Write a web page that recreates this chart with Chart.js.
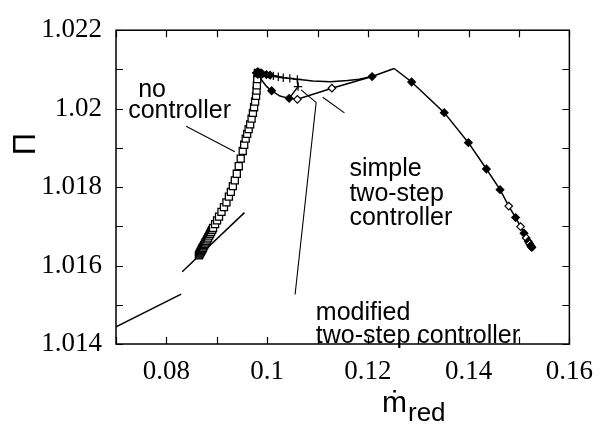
<!DOCTYPE html>
<html>
<head>
<meta charset="utf-8">
<script src="https://cdn.jsdelivr.net/npm/chart.js@4/dist/chart.umd.min.js"></script>
<style>
  html, body { margin: 0; padding: 0; background: #fff; }
  #wrap { width: 605px; height: 431px; }
</style>
</head>
<body>
<div id="wrap"><canvas id="c" width="605" height="431"></canvas></div>
<script>
// Axis tick labels
const xTickLabels = ['0.08', '0.1', '0.12', '0.14', '0.16'];
const yTickLabels = ['1.014', '1.016', '1.018', '1.02', '1.022'];

// Surge-line segments
const surgeAX = [0.07, 0.08294];
const surgeAY = [1.01444, 1.01527];
const surgeBX = [0.08314, 0.0955];
const surgeBY = [1.01584, 1.01735];

// No controller: speed line towards the surge point
const noCtrlX = [0.08645, 0.08655, 0.08665, 0.08675, 0.08685, 0.08695, 0.08705, 0.08715, 0.08725, 0.08737,
                 0.08751, 0.08765, 0.08780, 0.08795, 0.08810, 0.08829, 0.08849, 0.08868, 0.08888, 0.08908,
                 0.08927, 0.08967, 0.09006, 0.09045, 0.09094, 0.09143, 0.09192, 0.09241, 0.09280, 0.09320,
                 0.09359, 0.09398, 0.09437, 0.09476, 0.09516, 0.09545, 0.09575, 0.09604, 0.09633, 0.09663,
                 0.09692, 0.09718, 0.09741, 0.09761, 0.09780, 0.09790, 0.09796, 0.09804, 0.09816];
const noCtrlY = [1.016260, 1.016285, 1.016310, 1.016335, 1.016360, 1.016385, 1.016410, 1.016435, 1.016460, 1.016490,
                 1.016521, 1.016557, 1.016594, 1.016630, 1.016667, 1.016715, 1.016764, 1.016812, 1.016861, 1.016910,
                 1.016958, 1.017055, 1.017152, 1.017248, 1.017370, 1.017491, 1.017612, 1.017758, 1.017879, 1.018024,
                 1.018170, 1.018339, 1.018533, 1.018727, 1.018921, 1.019079, 1.019236, 1.019358, 1.019479, 1.019600,
                 1.019745, 1.019891, 1.020036, 1.020182, 1.020327, 1.020461, 1.020594, 1.020752, 1.020909];

// Upper trajectory from the left peak to the right peak
const upperX = [0.09816, 0.09908, 0.09986, 0.10059, 0.10124, 0.10222, 0.10320, 0.10451, 0.10600, 0.10908,
                0.11261, 0.11594, 0.11829, 0.12084, 0.12522];
const upperY = [1.020909, 1.020885, 1.020868, 1.020853, 1.020836, 1.020812, 1.020788, 1.020771, 1.020747, 1.020703,
                1.020686, 1.020715, 1.020752, 1.020819, 1.021023];
const upperMark = ['bigfill', 'fill', 'fill', 'fill', 'plus', 'plus', 'plus', 'plus', 'plus', 'none',
                   'none', 'none', 'none', 'fill', 'none'];

// Lower trajectory (dip after the left peak)
const lowerX = [0.09816, 0.09894, 0.09992, 0.10090, 0.10255, 0.10437, 0.10600, 0.11286, 0.12084];
const lowerY = [1.020909, 1.020722, 1.020562, 1.020456, 1.020320, 1.020262, 1.020238, 1.020521, 1.020819];
const lowerMark = ['bigfill', 'none', 'none', 'fill', 'none', 'fill', 'open', 'open', 'none'];

// Short branch back up to the upper trajectory
const linkX = [0.10437, 0.10614, 0.10600];
const linkY = [1.020262, 1.020562, 1.020747];
const linkMark = ['none', 'plus', 'none'];

// Characteristic right of the peak
const rightX = [0.12522, 0.12869, 0.13516, 0.13996, 0.14353, 0.14624, 0.14796, 0.14933, 0.15031, 0.15100,
                0.15143, 0.15182, 0.15212, 0.15231, 0.15243, 0.15255];
const rightY = [1.021023, 1.020679, 1.019898, 1.019132, 1.018461, 1.017935, 1.017515, 1.017224, 1.016994, 1.016824,
                1.016703, 1.016618, 1.016558, 1.016509, 1.016485, 1.016461];
const rightMark = ['none', 'fill', 'fill', 'fill', 'fill', 'fill', 'open', 'fill', 'open', 'fill',
                   'open', 'fill', 'open', 'fill', 'fill', 'fill'];

// Leader lines from the labels to the curves
const leaderNoX = [0.08392, 0.09359];
const leaderNoY = [1.019552, 1.018904];
const leaderSimpleX = [0.11104, 0.11535];
const leaderSimpleY = [1.020291, 1.019891];
const leaderModX = [0.10555, 0.10973, 0.10673];
const leaderModY = [1.015261, 1.020158, 1.020480];

// Curve labels, anchored in data coordinates (left edge, vertical middle)
const labelTexts = ['no', 'controller', 'simple', 'two-step', 'controller', 'modified', 'two-step controller'];
const labelX = [0.0744, 0.07241, 0.11633, 0.11633, 0.11633, 0.10967, 0.10967];
const labelY = [1.02047, 1.01994, 1.01846, 1.01783, 1.0172, 1.01480, 1.01420];

const pts = (xs, ys) => xs.map((x, i) => ({ x, y: ys[i] }));

function markStyle(kind) {
  switch (kind) {
    case 'plus': return { style: 'cross', r: 4.2, bg: '#000' };
    case 'fill': return { style: 'rectRot', r: 3.8, bg: '#000' };
    case 'bigfill': return { style: 'rectRot', r: 5, bg: '#000' };
    case 'open': return { style: 'rectRot', r: 3.8, bg: '#fff' };
    default: return { style: 'circle', r: 0, bg: '#000' };
  }
}

function curve(xs, ys, marks, extra) {
  const m = marks ? marks.map(markStyle) : null;
  return Object.assign({
    data: pts(xs, ys),
    showLine: true,
    borderColor: '#000',
    borderWidth: 1.5,
    tension: 0,
    pointStyle: m ? m.map(s => s.style) : 'circle',
    pointRadius: m ? m.map(s => s.r) : 0,
    pointBackgroundColor: m ? m.map(s => s.bg) : '#000',
    pointBorderColor: '#000',
    pointBorderWidth: 1.2,
    pointHoverRadius: 0
  }, extra || {});
}

// Lower "order" is painted later, i.e. on top
const datasets = [
  curve(surgeAX, surgeAY, null, { order: 5 }),
  curve(surgeBX, surgeBY, null, { order: 5 }),
  curve(noCtrlX, noCtrlY, null, {
    order: 4, pointStyle: 'rect', pointRadius: 5, pointBackgroundColor: '#fff', pointBorderWidth: 1.3
  }),
  curve(rightX, rightY, rightMark, { order: 3 }),
  curve(lowerX, lowerY, lowerMark, { order: 2 }),
  curve(linkX, linkY, linkMark, { order: 2 }),
  curve(upperX, upperY, upperMark, { order: 1 }),
  curve(leaderNoX, leaderNoY, null, { borderWidth: 1.1, order: 6 }),
  curve(leaderSimpleX, leaderSimpleY, null, { borderWidth: 1.1, order: 6 }),
  curve(leaderModX, leaderModY, null, { borderWidth: 1.1, order: 6 })
];

const serif = '"Liberation Serif", "Times New Roman", serif';
const sans = '"Liberation Sans", Arial, "DejaVu Sans", sans-serif';

// Frame, inward ticks on all four sides, curve labels and axis titles
const framePlugin = {
  id: 'frame',
  afterDraw(chart) {
    const { ctx, chartArea: a, scales } = chart;
    const xs = scales.x, ys = scales.y;
    ctx.save();
    ctx.strokeStyle = '#000';
    ctx.lineWidth = 1.5;
    ctx.strokeRect(a.left, a.top, a.right - a.left, a.bottom - a.top);
    const len = 7;
    ctx.lineWidth = 1.2;
    ctx.beginPath();
    xs.ticks.forEach(t => {
      const px = Math.round(xs.getPixelForValue(t.value)) + 0.5;
      ctx.moveTo(px, a.bottom); ctx.lineTo(px, a.bottom - len);
      ctx.moveTo(px, a.top); ctx.lineTo(px, a.top + len);
    });
    ys.ticks.forEach(t => {
      const py = Math.round(ys.getPixelForValue(t.value)) + 0.5;
      ctx.moveTo(a.left, py); ctx.lineTo(a.left + len, py);
      ctx.moveTo(a.right, py); ctx.lineTo(a.right - len, py);
    });
    ctx.stroke();

    ctx.fillStyle = '#000';
    ctx.font = '25px ' + sans;
    ctx.textBaseline = 'middle';
    ctx.textAlign = 'left';
    labelTexts.forEach((s, i) => {
      ctx.fillText(s, xs.getPixelForValue(labelX[i]), ys.getPixelForValue(labelY[i]));
    });

    // x title: m-dot with subscript "red"
    ctx.font = '30px ' + sans;
    ctx.textBaseline = 'alphabetic';
    const mx = 382, my = 412;
    ctx.fillText('\u1E41', mx, my);
    const mw = ctx.measureText('\u1E41').width;
    ctx.font = '26px ' + sans;
    ctx.fillText('red', mx + mw + 1, my + 9);

    // y title: capital Pi, rotated
    ctx.translate(26, 144);
    ctx.rotate(-Math.PI / 2);
    ctx.font = '31px ' + sans;
    ctx.textAlign = 'center';
    ctx.textBaseline = 'middle';
    ctx.fillText('\u03A0', 0, 0);
    ctx.restore();
  }
};

new Chart(document.getElementById('c'), {
  type: 'scatter',
  data: { datasets },
  options: {
    responsive: false,
    animation: false,
    events: [],
    layout: { padding: { top: 14, right: 30, left: 0, bottom: 0 } },
    plugins: { legend: { display: false }, tooltip: { enabled: false } },
    scales: {
      x: {
        type: 'linear', min: 0.07, max: 0.16,
        border: { display: false },
        grid: { display: false, drawTicks: false },
        ticks: {
          stepSize: 0.01, padding: 12, color: '#000', maxRotation: 0, autoSkip: false,
          font: { family: serif, size: 27 },
          callback: v => {
            const s = String(Number(v.toFixed(2)));
            return xTickLabels.includes(s) ? s : '';
          }
        },
        afterFit: s => { s.height = 87; }
      },
      y: {
        type: 'linear', min: 1.014, max: 1.022,
        border: { display: false },
        grid: { display: false, drawTicks: false },
        ticks: {
          stepSize: 0.001, padding: 14, color: '#000', autoSkip: false,
          font: { family: serif, size: 27 },
          callback: v => {
            const s = String(Number(v.toFixed(3)));
            return yTickLabels.includes(s) ? s : '';
          }
        },
        afterFit: s => { s.width = 116; }
      }
    }
  },
  plugins: [framePlugin]
});
</script>
</body>
</html>
